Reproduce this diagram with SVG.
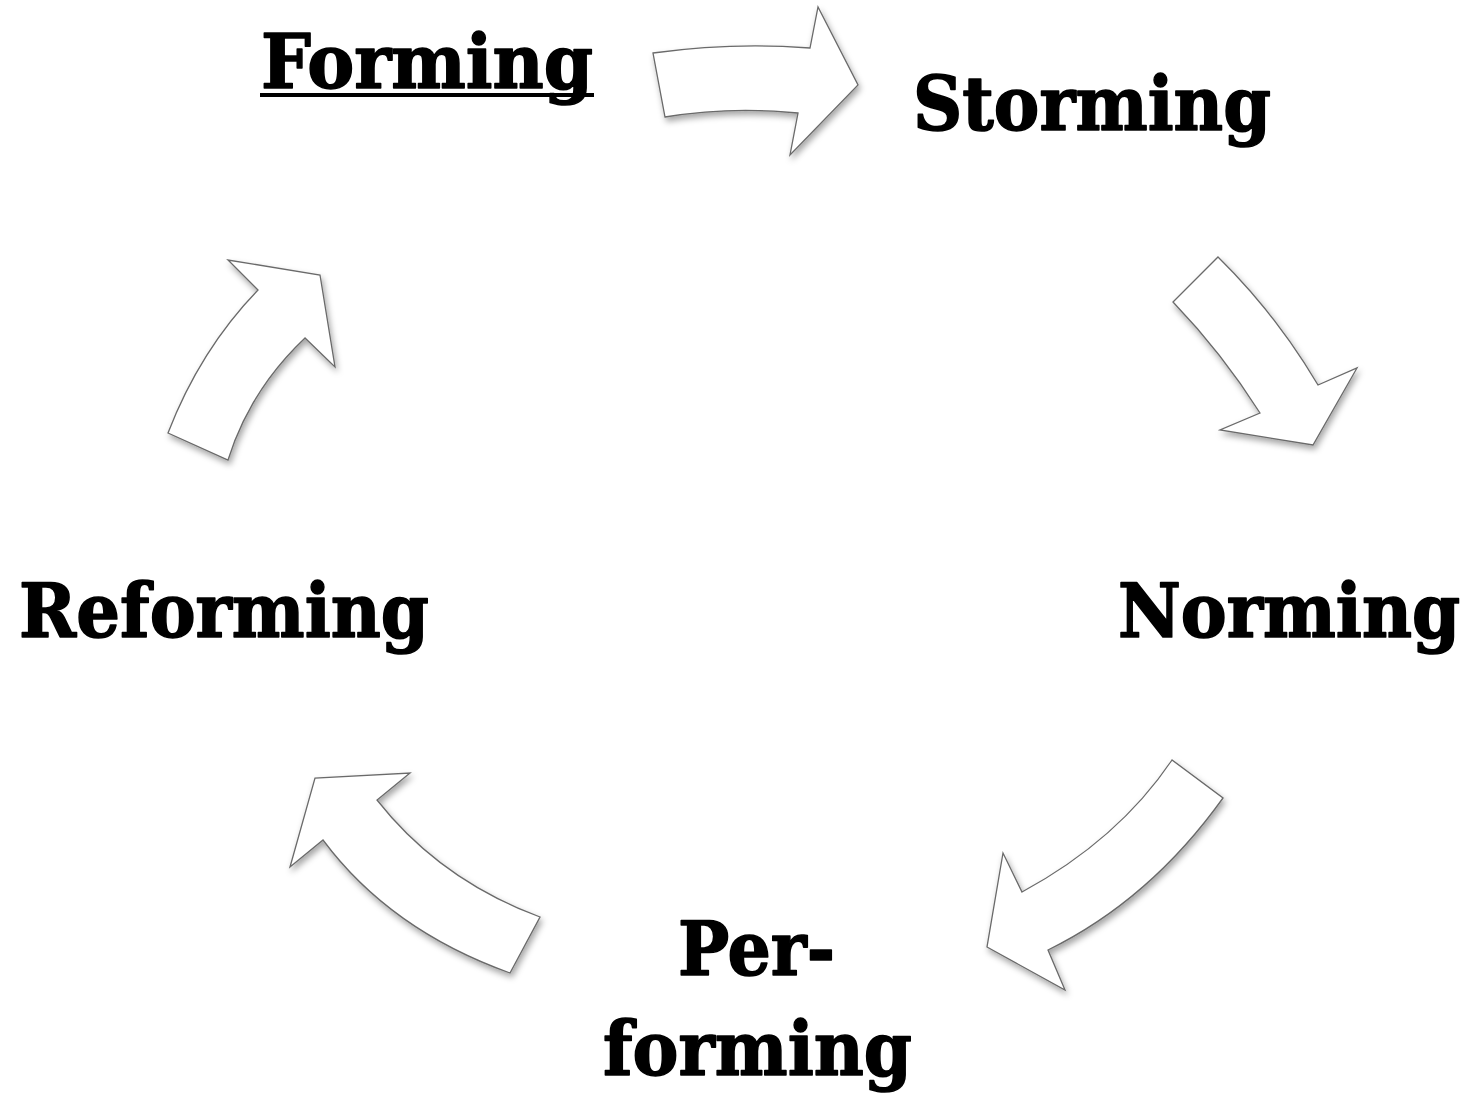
<svg xmlns="http://www.w3.org/2000/svg" width="1474" height="1098" viewBox="0 0 1474 1098">
<style>
.lbl{font-family:"DejaVu Serif","Liberation Serif",serif;font-weight:bold;font-size:75px;fill:#000;stroke:#000;stroke-width:1.6;stroke-linejoin:round}
.arr{fill:#fff;stroke:#6a6a6a;stroke-width:1.3;stroke-linejoin:miter;filter:url(#sh)}
</style>
<defs>
<filter id="sh" x="-20%" y="-20%" width="140%" height="140%">
<feDropShadow dx="2" dy="4" stdDeviation="3" flood-color="#000" flood-opacity="0.35"/>
</filter>
</defs>
<rect width="1474" height="1098" fill="#fff"/>
<g id="connectors">
<path class="arr" d="M653,53 Q733,42 810,48 L818,7 L858,85 L790,155 L798,113 Q730,106 665,117 Z"/>
<path class="arr" d="M1218,257 Q1276,314 1318,385 L1357,368 L1313,445 L1220,430 L1260,413 Q1222,353 1173,302 Z"/>
<path class="arr" d="M1223,798 Q1150,900 1048,950 L1065,990 L987,947 L1003,853 L1022,892 Q1118,840 1172,760 Z"/>
<path class="arr" d="M540,917 Q440,880 377,800 L410,773 L315,778 L290,867 L323,840 Q390,930 510,973 Z"/>
<path class="arr" d="M228,460 Q250,390 305,338 L335,367 L320,275 L228,260 L258,290 Q200,350 168,433 Z"/>
</g>
<g id="node-forming">
<text class="lbl" x="261" y="88" textLength="332" lengthAdjust="spacingAndGlyphs">Forming</text>
<rect x="260" y="93" width="334" height="4" fill="#000"/>
</g>
<g id="node-storming"><text class="lbl" x="913" y="130" textLength="358" lengthAdjust="spacingAndGlyphs">Storming</text></g>
<g id="node-norming"><text class="lbl" x="0" y="0" transform="translate(1118,637) scale(1,1.07)" style="font-size:70px" textLength="342" lengthAdjust="spacingAndGlyphs">Norming</text></g>
<g id="node-reforming"><text class="lbl" x="19" y="637" textLength="410" lengthAdjust="spacingAndGlyphs">Reforming</text></g>
<g id="node-performing">
<text class="lbl" x="678" y="975" textLength="157" lengthAdjust="spacingAndGlyphs">Per-</text>
<text class="lbl" x="603" y="1075" textLength="309" lengthAdjust="spacingAndGlyphs">forming</text>
</g>
</svg>
